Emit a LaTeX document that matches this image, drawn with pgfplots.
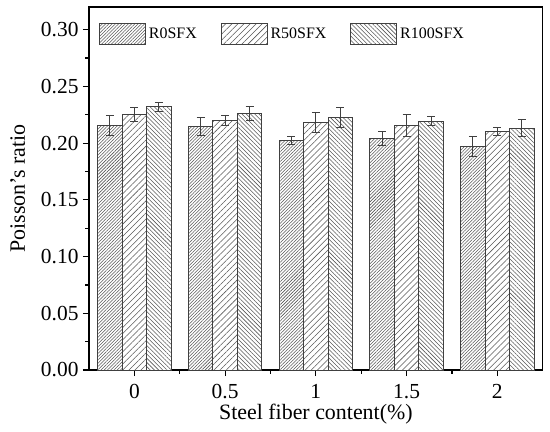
\documentclass[border=0pt]{standalone}
\usepackage{fontspec}
\setmainfont{Liberation Serif}
\usepackage{pgfplots}
\pgfplotsset{compat=1.18}
\usepackage{pgfplotstable}
\usetikzlibrary{patterns.meta}

\pgfplotstableread{
x  y       e
0  0.2156  0.0088
1  0.2147  0.0077
2  0.2023  0.0036
3  0.2041  0.0060
4  0.1970  0.0088
}\rzero
\pgfplotstableread{
x  y       e
0  0.2253  0.0065
1  0.2203  0.0045
2  0.2185  0.0088
3  0.2153  0.0098
4  0.2100  0.0035
}\rfifty
\pgfplotstableread{
x  y       e
0  0.2320  0.0040
1  0.2262  0.0065
2  0.2227  0.0086
3  0.2194  0.0037
4  0.2132  0.0075
}\rhundred

\definecolor{edge}{gray}{0.25}
\definecolor{hatch}{gray}{0.35}

\begin{document}
\begin{tikzpicture}
\begin{axis}[
  at={(0,0)}, anchor=south west,
  scale only axis,
  width=453.7bp, height=363bp,
  xmin=-0.5, xmax=4.5,
  ymin=0, ymax=0.32,
  ybar=0pt,
  bar width=0.27,
  xtick={0,1,2,3,4},
  xticklabels={0,0.5,1,1.5,2},
  minor xtick={0.5,1.5,2.5,3.5},
  ytick={0,0.05,0.10,0.15,0.20,0.25,0.30},
  minor ytick={0.025,0.075,0.125,0.175,0.225,0.275},
  yticklabel style={/pgf/number format/fixed, /pgf/number format/fixed zerofill, /pgf/number format/precision=2, /tikz/xshift=-1bp},
  /pgf/number format/assume math mode=true,
  tick align=outside,
  xtick pos=bottom, ytick pos=left,
  major tick length=6bp, minor tick length=3.5bp,
  tick style={line width=1.2bp, black},
  axis line style={line width=1.3bp},
  tick label style={font=\fontsize{21.5}{24}\selectfont},
  xticklabel style={/tikz/yshift=-5bp},
  label style={font=\fontsize{22}{24}\selectfont},
  xlabel={Steel fiber content(\%)},
  ylabel={Poisson's ratio},
  xlabel style={yshift=2bp},
  ylabel style={yshift=9bp},
  legend style={draw=none, fill=none, at={(0,1)}, anchor=north west,
    xshift=7bp, yshift=-14bp,
    legend columns=3, font=\fontsize{16}{18}\selectfont,
    /tikz/every odd column/.append style={column sep=1bp},
    /tikz/every even column/.append style={column sep=22bp}},
  legend image code/.code={\draw[#1, draw=edge, line width=0.8bp] (0bp,-10.5bp) rectangle (46bp,10.5bp);},
  error bars/error bar style={line width=0.9bp, edge},
  error bars/error mark options={rotate=90, mark size=4bp, line width=0.9bp, edge},
]
\addplot+[draw=edge, line width=0.8bp, fill=white,
  postaction={pattern={Lines[angle=45,distance=2.3bp,line width=0.55bp]}, pattern color=hatch},
  error bars/.cd, y dir=both, y explicit]
  table[x=x, y=y, y error=e] {\rzero};
\addlegendentry{R0SFX}
\addplot+[draw=edge, line width=0.8bp, fill=white,
  postaction={pattern={Lines[angle=45,distance=4.3bp,line width=0.55bp]}, pattern color=hatch},
  error bars/.cd, y dir=both, y explicit]
  table[x=x, y=y, y error=e] {\rfifty};
\addlegendentry{R50SFX}
\addplot+[draw=edge, line width=0.8bp, fill=white,
  postaction={pattern={Lines[angle=-45,distance=3.0bp,line width=0.55bp]}, pattern color=hatch},
  error bars/.cd, y dir=both, y explicit]
  table[x=x, y=y, y error=e] {\rhundred};
\addlegendentry{R100SFX}
\end{axis}
\pgfresetboundingbox
\path[use as bounding box] (-89bp,-62bp) rectangle (461bp,370bp);
\end{tikzpicture}
\end{document}
